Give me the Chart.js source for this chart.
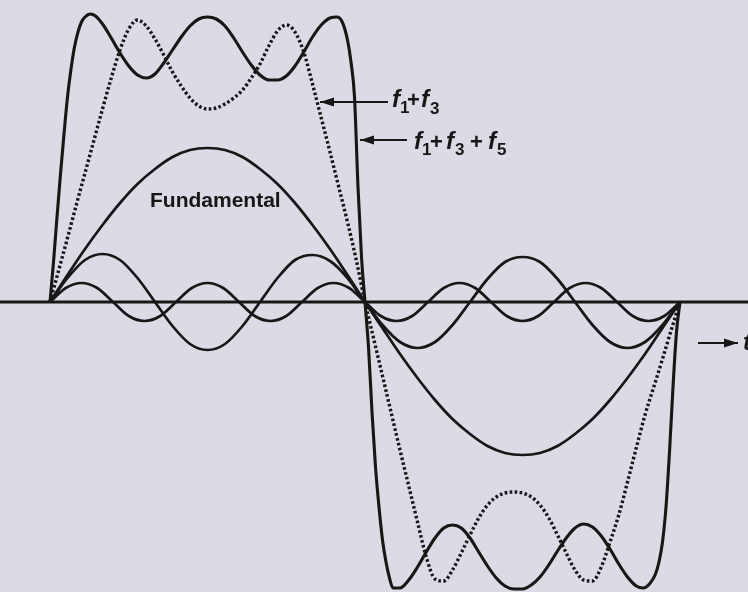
<!DOCTYPE html>
<html><head><meta charset="utf-8">
<script src="https://cdn.jsdelivr.net/npm/chart.js@4/dist/chart.umd.min.js"></script>
<style>
html,body{margin:0;padding:0;background:#dadbe4;overflow:hidden}
#wrap{width:748px;height:592px;position:relative}
canvas{display:block}
</style>
</head><body><div id="wrap"><canvas id="c" width="748" height="592"></canvas></div>
<script>
// angle in degrees along one full cycle (0..360)
const angleStep10 = [0,10,20,30,40,50,60,70,80,90,100,110,120,130,140,150,160,170,180,190,200,210,220,230,240,250,260,270,280,290,300,310,320,330,340,350,360];
const fundamental = [0,27,53,77,99,118,133,145,152,154,152,145,133,118,99,77,53,27,0,-26,-52,-76,-98,-117,-132,-144,-151,-153,-151,-144,-132,-117,-98,-76,-52,-26,0];
const thirdHarmonic = [0,24,42,48,42,24,0,-24,-42,-48,-42,-24,0,24,42,47,41,24,0,-23,-40,-46,-40,-23,0,23,40,45,40,23,0,-23,-40,-46,-40,-23,0];

const angleStep9 = [0,9,18,27,36,45,54,63,72,81,90,99,108,117,126,135,144,153,162,171,180,189,198,207,216,225,234,243,252,261,270,279,288,297,306,315,324,333,342,351,360];
const fifthHarmonic = [0,14,19,14,0,-14,-19,-14,0,14,19,14,0,-14,-19,-14,0,14,19,14,0,-14,-19,-14,0,14,19,14,0,-14,-19,-14,0,14,19,14,0,-14,-19,-14,0];

const angleStep5 = [0,5,10,15,20,25,30,35,40,45,50,55,60,65,70,75,80,85,90,95,100,105,110,115,120,125,130,135,140,145,150,155,160,165,170,175,180,185,190,195,200,205,210,215,220,225,230,235,240,245,250,255,260,265,270,275,280,285,290,295,300,305,310,315,320,325,330,335,340,345,350,355,360];
const sumF1F3 = [0,32,64,97,129,161,193,224,252,273,282,276,263,247,230,216,204,196,193,194,198,204,212,224,238,256,271,277,270,250,218,184,150,115,80,42,0,
 -37,-74,-111,-148,-184,-220,-255,-277,-279,-268,-251,-233,-216,-203,-195,-191,-190,-191,-195,-203,-216,-233,-251,-268,-278,-279,-265,-240,-213,-180,-146,-113,-85,-57,-28,0];

const angleSum135 = [0,2,4,6,8,10,12,14,16,18,20,23,26,30,35,40,45,50,55,60,65,70,75,80,85,90,95,100,105,110,115,120,125,130,135,140,145,150,155,160,164,167,170,172,174,176,178,180,
 182,184,186,188,190,192,194,196,200,205,210,215,220,225,230,235,240,245,250,255,260,265,270,275,280,285,290,295,300,305,310,315,320,325,330,335,339,343,346,348,350,352,354,356,358,360];
const sumF1F3F5 = [0,40,85,128,168,205,233,255,270,280,285,288,286,278,264,249,236,227,224,228,239,252,265,276,283,285,283,276,264,250,237,227,222,222,226,236,250,265,277,284,285,280,262,240,205,115,45,0,
 -45,-110,-165,-205,-238,-260,-276,-286,-286,-278,-265,-250,-236,-226,-223,-226,-236,-250,-264,-276,-284,-287,-287,-283,-275,-263,-249,-236,-226,-222,-225,-234,-247,-262,-275,-284,-286,-281,-272,-260,-240,-205,-150,-85,-30,0];

function pts(xs, ys){ return xs.map((x,i)=>({x:x, y:ys[i]})); }

const INK = '#171717';

function arrow(ctx, x1, x2, y, headLeft){
  ctx.save();
  ctx.strokeStyle = INK; ctx.fillStyle = INK; ctx.lineWidth = 2;
  ctx.beginPath(); ctx.moveTo(x1, y); ctx.lineTo(x2, y); ctx.stroke();
  ctx.beginPath();
  if (headLeft){ ctx.moveTo(x1, y); ctx.lineTo(x1+14, y-4.5); ctx.lineTo(x1+14, y+4.5); }
  else { ctx.moveTo(x2, y); ctx.lineTo(x2-14, y-4.5); ctx.lineTo(x2-14, y+4.5); }
  ctx.closePath(); ctx.fill();
  ctx.restore();
}
function rich(ctx, parts){
  ctx.save(); ctx.fillStyle = INK; ctx.textBaseline = 'alphabetic';
  parts.forEach(p => { ctx.font = p.f; ctx.fillText(p.t, p.x, p.y); });
  ctx.restore();
}
const FI = 'italic bold 24px "Liberation Sans", Arial, sans-serif';
const FB = 'bold 22px "Liberation Sans", Arial, sans-serif';
const FS = 'bold 17px "Liberation Sans", Arial, sans-serif';

const decor = {
  id: 'decor',
  beforeDatasetsDraw(chart){
    const {ctx, chartArea, scales} = chart;
    const y0 = scales.y.getPixelForValue(0);
    ctx.save();
    ctx.strokeStyle = INK; ctx.lineWidth = 3;
    ctx.beginPath(); ctx.moveTo(chartArea.left, y0); ctx.lineTo(chartArea.right, y0); ctx.stroke();
    ctx.restore();
  },
  afterDatasetsDraw(chart){
    const ctx = chart.ctx;
    ctx.save();
    ctx.fillStyle = INK; ctx.font = 'bold 21px "Liberation Sans", Arial, sans-serif';
    ctx.textBaseline = 'alphabetic';
    ctx.fillText('Fundamental', 150, 207);
    ctx.restore();
    // f1+f3
    arrow(ctx, 320, 388, 102, true);
    rich(ctx, [
      {t:'f', f:FI, x:392, y:107}, {t:'1', f:FS, x:400, y:113},
      {t:'+', f:FB, x:407, y:107},
      {t:'f', f:FI, x:421, y:107}, {t:'3', f:FS, x:430, y:114}
    ]);
    // f1+f3+f5
    arrow(ctx, 360, 407, 140, true);
    rich(ctx, [
      {t:'f', f:FI, x:414, y:149}, {t:'1', f:FS, x:422, y:155},
      {t:'+', f:FB, x:430, y:149},
      {t:'f', f:FI, x:446, y:149}, {t:'3', f:FS, x:455, y:155},
      {t:'+', f:FB, x:470, y:149},
      {t:'f', f:FI, x:488, y:149}, {t:'5', f:FS, x:497, y:155}
    ]);
    // time arrow
    arrow(ctx, 698, 738, 343, false);
    rich(ctx, [{t:'t', f:FI, x:743, y:350}]);
  }
};

const common = {pointRadius:0, borderColor:INK, fill:false, cubicInterpolationMode:'monotone'};

new Chart(document.getElementById('c'), {
  type: 'line',
  data: { datasets: [
    Object.assign({label:'Fifth harmonic', data:pts(angleStep9, fifthHarmonic), borderWidth:2.7}, common),
    Object.assign({label:'Third harmonic', data:pts(angleStep10, thirdHarmonic), borderWidth:2.7}, common),
    Object.assign({label:'Fundamental', data:pts(angleStep10, fundamental), borderWidth:2.7}, common),
    Object.assign({label:'f1+f3', data:pts(angleStep5, sumF1F3), borderWidth:3.4, borderDash:[2.6,2.4]}, common),
    Object.assign({label:'f1+f3+f5', data:pts(angleSum135, sumF1F3F5), borderWidth:3.1}, common)
  ]},
  options: {
    responsive:false, animation:false, devicePixelRatio:1,
    layout:{padding:0},
    plugins:{legend:{display:false}, tooltip:{enabled:false}},
    scales:{
      x:{type:'linear', display:false, min:-50/1.75, max:698/1.75},
      y:{display:false, min:-290, max:302}
    }
  },
  plugins:[decor]
});
</script>
</body></html>
